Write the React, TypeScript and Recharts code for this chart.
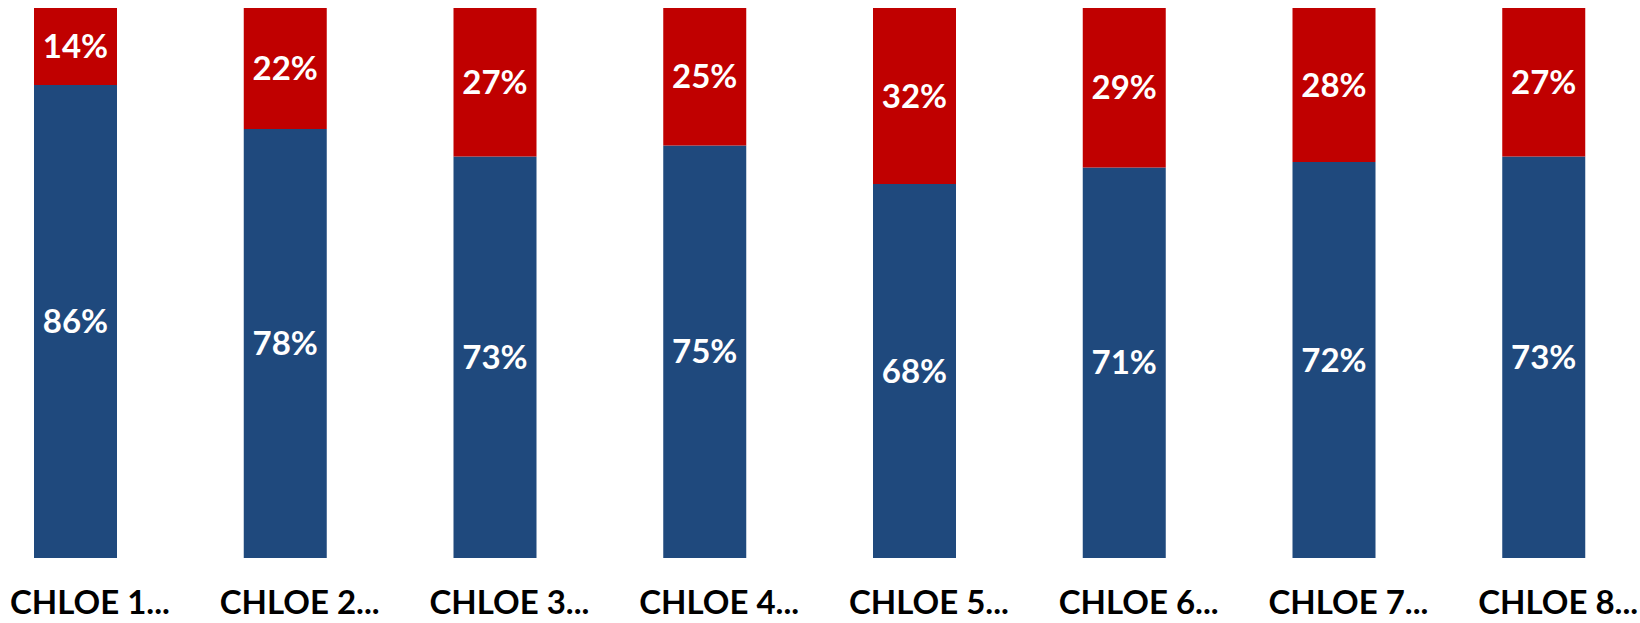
import { BarChart, Bar, XAxis, YAxis, LabelList } from 'recharts';

const categories = ['CHLOE 1...', 'CHLOE 2...', 'CHLOE 3...', 'CHLOE 4...', 'CHLOE 5...', 'CHLOE 6...', 'CHLOE 7...', 'CHLOE 8...'];
const blueValues = [86, 78, 73, 75, 68, 71, 72, 73];
const redValues = [14, 22, 27, 25, 32, 29, 28, 27];

const data = categories.map((name, i) => ({ name, blue: blueValues[i], red: redValues[i] }));

const FONT = 'Lato, "Open Sans", sans-serif';

const CategoryTick = (props: any) => {
  const { x, y, payload } = props;
  return (
    <text
      x={x + 14}
      y={y + 48}
      textAnchor="middle"
      fill="#000"
      style={{ fontFamily: FONT, fontSize: 33, fontWeight: 700 }}
    >
      {payload.value}
    </text>
  );
};

export default function App() {
  return (
    <div style={{ position: 'absolute', left: 0, top: 0, width: 1640, height: 623, background: '#fff' }}>
      <BarChart
        width={1640}
        height={623}
        data={data}
        margin={{ top: 8, right: -9, left: -29, bottom: 0 }}
      >
        <XAxis
          dataKey="name"
          axisLine={false}
          tickLine={false}
          height={65}
          interval={0}
          tick={<CategoryTick />}
        />
        <YAxis hide domain={[0, 100]} />
        <Bar dataKey="blue" stackId="a" fill="#1F497D" barSize={83} isAnimationActive={false}>
          <LabelList
            dataKey="blue"
            position="center"
            formatter={(v: any) => `${v}%`}
            fill="#fff"
            style={{ fontFamily: FONT, fontSize: 33, fontWeight: 700 }}
          />
        </Bar>
        <Bar dataKey="red" stackId="a" fill="#C00000" barSize={83} isAnimationActive={false}>
          <LabelList
            dataKey="red"
            position="center"
            formatter={(v: any) => `${v}%`}
            fill="#fff"
            style={{ fontFamily: FONT, fontSize: 33, fontWeight: 700 }}
          />
        </Bar>
      </BarChart>
    </div>
  );
}
